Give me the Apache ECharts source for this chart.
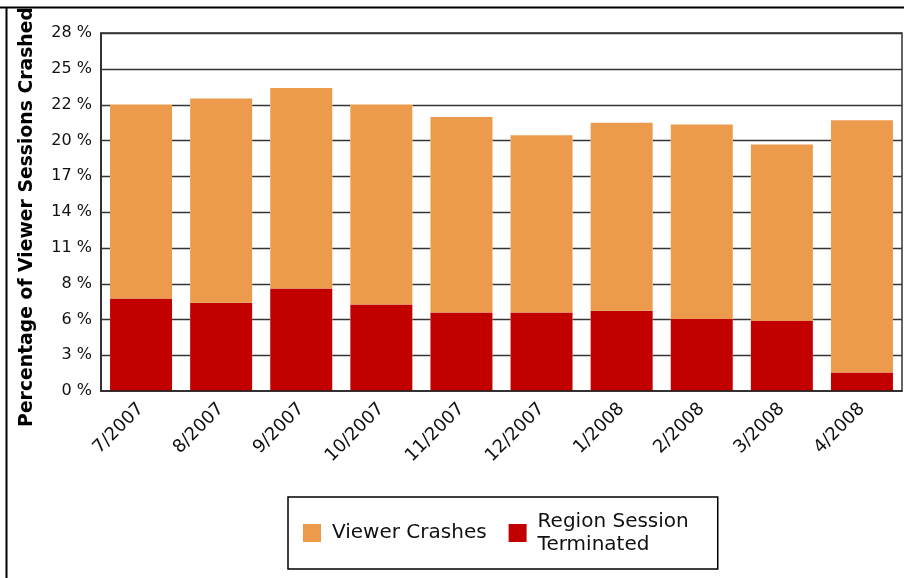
<!DOCTYPE html>
<html>
<head>
<meta charset="utf-8">
<script src="https://cdn.jsdelivr.net/npm/echarts@6/dist/echarts.min.js"></script>
<style>
  html, body { margin: 0; padding: 0; background: #fff; }
  #chart { width: 904px; height: 578px; }
</style>
</head>
<body>
<div id="chart"></div>
<script>
const categories = ['7/2007', '8/2007', '9/2007', '10/2007', '11/2007', '12/2007', '1/2008', '2/2008', '3/2008', '4/2008'];
const regionSessionTerminated = [7.23, 6.91, 8.01, 6.76, 6.13, 6.13, 6.27, 5.63, 5.47, 1.44];
const viewerCrashes = [15.17, 15.96, 15.69, 15.64, 15.30, 13.87, 14.71, 15.21, 13.80, 19.73];
const yTickLabels = ['0 %', '3 %', '6 %', '8 %', '11 %', '14 %', '17 %', '20 %', '22 %', '25 %', '28 %'];
const yGridValues = [2.8, 5.6, 8.4, 11.2, 14, 16.8, 19.6, 22.4, 25.2, 28];

const FONT = '"DejaVu Sans", sans-serif';
const BAR_W = 62;
const chart = echarts.init(document.getElementById('chart'), null, { renderer: 'canvas' });

// gridlines drawn only where no bar covers them (bars sit in front of the grid)
function renderGridLine(params, api) {
  const v = api.value(1);
  const cs = params.coordSys;
  const y = Math.round(api.coord([0, v])[1]) + 0.5;
  const band = cs.width / categories.length;
  const children = [];
  const seg = function (a, b) {
    if (b > a + 0.5) children.push({ type: 'line', shape: { x1: a, y1: y, x2: b, y2: y }, style: { stroke: '#333', lineWidth: 1.5 } });
  };
  let start = cs.x;
  for (let i = 0; i < categories.length; i++) {
    const total = regionSessionTerminated[i] + viewerCrashes[i];
    if (total >= v) {
      const cx = cs.x + band * (i + 0.5);
      seg(start, cx - BAR_W / 2);
      start = cx + BAR_W / 2;
    }
  }
  seg(start, cs.x + cs.width);
  return { type: 'group', children: children };
}

chart.setOption({
  backgroundColor: '#ffffff',
  animation: false,
  grid: {
    left: 101, top: 33, right: 2, bottom: 187,
    show: true, borderColor: '#333', borderWidth: 1.5, backgroundColor: 'transparent'
  },
  legend: {
    data: ['Viewer Crashes', 'Region Session Terminated'],
    left: 288, top: 497,
    orient: 'horizontal',
    padding: [13, 29, 13, 15],
    borderColor: '#000', borderWidth: 1.5,
    backgroundColor: '#fff',
    icon: 'rect',
    itemWidth: 18, itemHeight: 18,
    itemGap: 22,
    formatter: function (name) {
      return name === 'Region Session Terminated' ? 'Region Session\nTerminated' : name;
    },
    textStyle: { fontFamily: FONT, fontSize: 20, lineHeight: 23, color: '#111', padding: [0, 0, 0, 6] }
  },
  xAxis: {
    type: 'category',
    data: categories,
    z: 20,
    axisLine: { show: true, lineStyle: { color: '#222', width: 1.5 } },
    axisTick: { show: false },
    axisLabel: {
      rotate: 45, interval: 0, margin: 15,
      padding: [44, 0, 0, 0],
      fontFamily: FONT, fontSize: 18, color: '#111'
    }
  },
  yAxis: {
    type: 'value',
    min: 0, max: 28, interval: 2.8,
    name: 'Percentage of Viewer Sessions Crashed',
    nameLocation: 'middle',
    nameGap: 64,
    nameTextStyle: { fontFamily: FONT, fontWeight: 'bold', fontSize: 18.8, color: '#000', padding: [0, 10, 0, 0] },
    axisLine: { show: true, lineStyle: { color: '#222', width: 1.5 } },
    axisTick: { show: false },
    axisLabel: {
      margin: 9, fontFamily: FONT, fontSize: 16, color: '#111',
      formatter: function (v, i) { return yTickLabels[i]; }
    },
    splitLine: { show: false }
  },
  series: [
    {
      name: 'gridlines', type: 'custom', z: 1, silent: true, clip: false,
      renderItem: renderGridLine,
      encode: { x: 0, y: 1 },
      data: yGridValues.map(function (v) { return [0, v]; })
    },
    {
      name: 'Region Session Terminated', type: 'bar', stack: 'total', z: 10,
      data: regionSessionTerminated, barWidth: BAR_W,
      itemStyle: { color: '#C20000', opacity: 1 }
    },
    {
      name: 'Viewer Crashes', type: 'bar', stack: 'total', z: 10,
      data: viewerCrashes, barWidth: BAR_W,
      itemStyle: { color: '#EC9A4C', opacity: 1 }
    }
  ],
  graphic: [
    { type: 'line', shape: { x1: 0, y1: 7.5, x2: 904, y2: 7.5 }, style: { stroke: '#000', lineWidth: 2 } },
    { type: 'line', shape: { x1: 6.5, y1: 7, x2: 6.5, y2: 578 }, style: { stroke: '#000', lineWidth: 2 } }
  ]
});
</script>
</body>
</html>
